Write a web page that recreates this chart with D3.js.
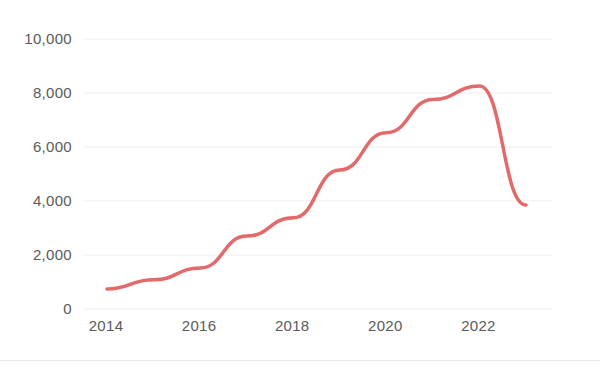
<!DOCTYPE html>
<html>
<head>
<meta charset="utf-8">
<script src="https://cdn.jsdelivr.net/npm/d3@7"></script>
<style>
  html, body { margin: 0; padding: 0; background: #fff; }
  svg { display: block; }
  text { font-family: "Liberation Sans", Arial, sans-serif; }
</style>
</head>
<body>
<svg id="chart" width="600" height="367"></svg>
<script>
const years = [2014, 2015, 2016, 2017, 2018, 2019, 2020, 2021, 2022, 2023];
const values = [740, 1080, 1520, 2700, 3380, 5150, 6530, 7760, 8260, 3850];
const yTicks = [0, 2000, 4000, 6000, 8000, 10000];
const xTicks = [2014, 2016, 2018, 2020, 2022];

const svg = d3.select("#chart");
const x = d3.scaleLinear().domain([2014, 2023]).range([107, 526]);
const y = d3.scaleLinear().domain([0, 10000]).range([309, 39]);

// gridlines
svg.append("g").selectAll("line").data(yTicks).join("line")
  .attr("x1", 84).attr("x2", 552)
  .attr("y1", d => y(d)).attr("y2", d => y(d))
  .attr("stroke", "#ededed").attr("stroke-width", 1);

// y labels
svg.append("g").selectAll("text").data(yTicks).join("text")
  .attr("x", 72).attr("y", d => y(d)).attr("dy", "0.35em")
  .attr("text-anchor", "end")
  .attr("font-size", 15).attr("fill", "#5a5a5a")
  .attr("letter-spacing", 0.3)
  .text(d => d3.format(",")(d));

// x labels
svg.append("g").selectAll("text").data(xTicks).join("text")
  .attr("x", d => x(d) - 1).attr("y", 331)
  .attr("text-anchor", "middle")
  .attr("font-size", 15).attr("fill", "#5a5a5a")
  .attr("letter-spacing", 0.3)
  .text(d => d);

// bottom separator
svg.append("line").attr("x1", 0).attr("x2", 600).attr("y1", 360.5).attr("y2", 360.5)
  .attr("stroke", "#e8e8e8").attr("stroke-width", 1);

// line
const line = d3.line().x((d, i) => x(years[i])).y(d => y(d)).curve(d3.curveBumpX);
svg.append("path").datum(values)
  .attr("d", line)
  .attr("fill", "none")
  .attr("stroke", "#e26a6a")
  .attr("stroke-width", 3.5)
  .attr("stroke-linecap", "round")
  .attr("stroke-linejoin", "round");
</script>
</body>
</html>
